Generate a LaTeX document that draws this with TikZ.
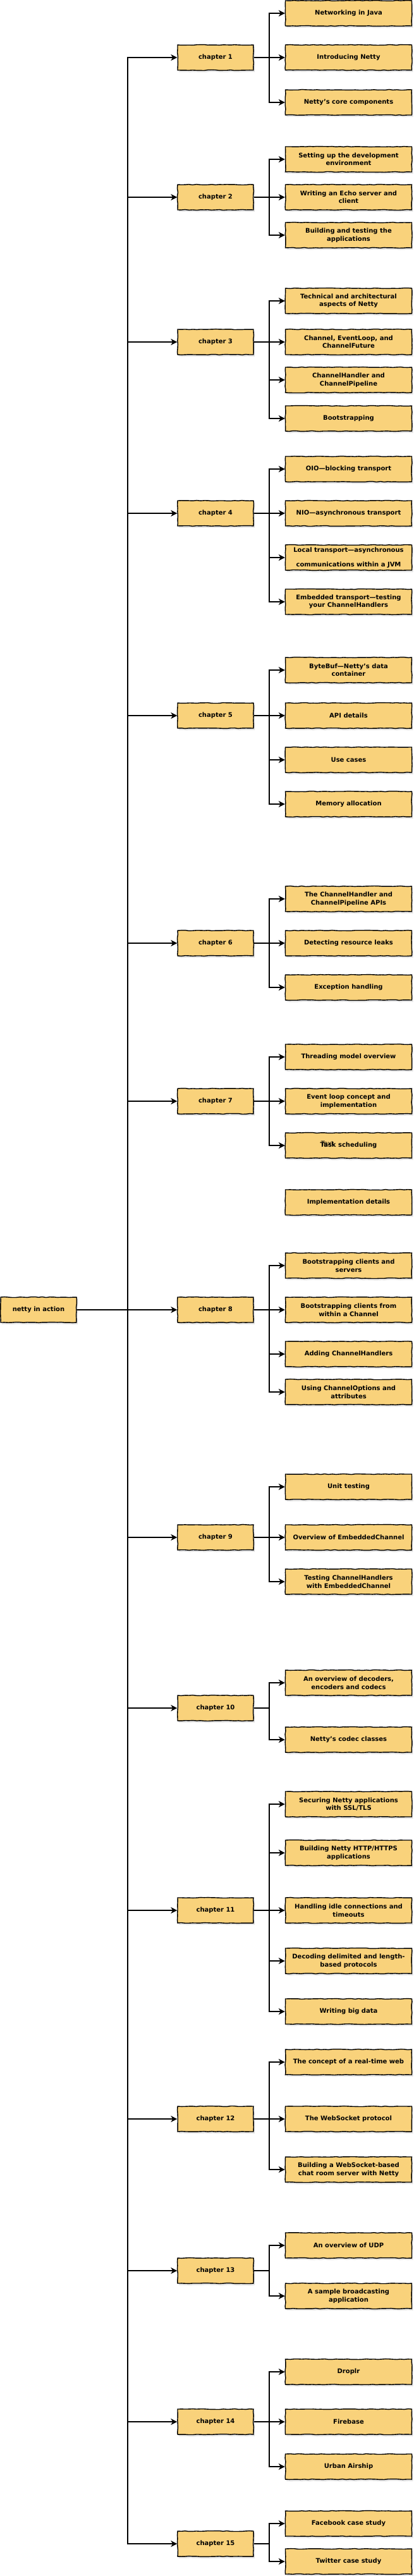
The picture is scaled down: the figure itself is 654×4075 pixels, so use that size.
\documentclass[tikz,border=0pt]{standalone}
\usepackage{fontspec}
\setmainfont{DejaVu Sans}
\usepackage{tikz}
\usetikzlibrary{arrows.meta,shadows,decorations.pathmorphing}
\definecolor{boxfill}{HTML}{F9D27B}
\tikzset{
  box/.style={draw, line width=1.4pt, fill=boxfill, minimum height=40pt, align=center,
    inner sep=1pt, font=\fontsize{10}{12.5}\selectfont\bfseries,
    decorate, decoration={random steps, segment length=6pt, amplitude=0.5pt},
    drop shadow={shadow xshift=2pt, shadow yshift=-3pt, opacity=0.2}},
  chap/.style={box, minimum width=120pt},
  topic/.style={box, minimum width=200pt},
  link/.style={line width=1.3pt, -{Stealth[length=10pt,width=10pt,inset=3pt]}}
}
\begin{document}
\begin{tikzpicture}[x=1pt,y=-1pt]
\pgfmathsetseed{7}
\useasboundingbox (0,0) rectangle (654,4075);

\node[chap] (root) at (61,2072) {netty in action};

\node[chap] (c1) at (341,91) {chapter 1};
\node[chap] (c2) at (341,312) {chapter 2};
\node[chap] (c3) at (341,541) {chapter 3};
\node[chap] (c4) at (341,812) {chapter 4};
\node[chap] (c5) at (341,1132) {chapter 5};
\node[chap] (c6) at (341,1492) {chapter 6};
\node[chap] (c7) at (341,1742) {chapter 7};
\node[chap] (c8) at (341,2072) {chapter 8};
\node[chap] (c9) at (341,2432) {chapter 9};
\node[chap] (c10) at (341,2702) {chapter 10};
\node[chap] (c11) at (341,3022) {chapter 11};
\node[chap] (c12) at (341,3352) {chapter 12};
\node[chap] (c13) at (341,3592) {chapter 13};
\node[chap] (c14) at (341,3831) {chapter 14};
\node[chap] (c15) at (341,4024) {chapter 15};

\node[topic] (t1a) at (551.5,21) {Networking in Java};
\node[topic] (t1b) at (551.5,91) {Introducing Netty};
\node[topic] (t1c) at (551.5,162) {Netty’s core components};

\node[topic] (t2a) at (551.5,252) {Setting up the development\\environment};
\node[topic] (t2b) at (551.5,312) {Writing an Echo server and\\client};
\node[topic] (t2c) at (551.5,372) {Building and testing the\\applications};

\node[topic] (t3a) at (551.5,476) {Technical and architectural\\aspects of Netty};
\node[topic] (t3b) at (551.5,541) {Channel, EventLoop, and\\ChannelFuture};
\node[topic] (t3c) at (551.5,601) {ChannelHandler and\\ChannelPipeline};
\node[topic] (t3d) at (551.5,662) {Bootstrapping};

\node[topic] (t4a) at (551.5,742) {OIO—blocking transport};
\node[topic] (t4b) at (551.5,812) {NIO—asynchronous transport};
\node[topic] (t4c) at (551.5,882) {Local transport—asynchronous\\[11pt]communications within a JVM};
\node[topic] (t4d) at (551.5,952) {Embedded transport—testing\\your ChannelHandlers};

\node[topic] (t5a) at (551.5,1060) {ByteBuf—Netty’s data\\container};
\node[topic] (t5b) at (551.5,1132) {API details};
\node[topic] (t5c) at (551.5,1202) {Use cases};
\node[topic] (t5d) at (551.5,1272) {Memory allocation};

\node[topic] (t6a) at (551.5,1422) {The ChannelHandler and\\ChannelPipeline APIs};
\node[topic] (t6b) at (551.5,1492) {Detecting resource leaks};
\node[topic] (t6c) at (551.5,1562) {Exception handling};

\node[topic] (t7a) at (551.5,1672) {Threading model overview};
\node[topic] (t7b) at (551.5,1742) {Event loop concept and\\implementation};
\node[topic] (t7c) at (551.5,1812) {Task scheduling};
\node[font=\fontsize{10}{12}\selectfont] (tx) at (518,1809) {Text};
\node[topic] (t7d) at (551.5,1902) {Implementation details};

\node[topic] (t8a) at (551.5,2002) {Bootstrapping clients and\\servers};
\node[topic] (t8b) at (551.5,2072) {Bootstrapping clients from\\within a Channel};
\node[topic] (t8c) at (551.5,2142) {Adding ChannelHandlers};
\node[topic] (t8d) at (551.5,2202) {Using ChannelOptions and\\attributes};

\node[topic] (t9a) at (551.5,2352) {Unit testing};
\node[topic] (t9b) at (551.5,2432) {Overview of EmbeddedChannel};
\node[topic] (t9c) at (551.5,2502) {Testing ChannelHandlers\\with EmbeddedChannel};

\node[topic] (t10a) at (551.5,2662) {An overview of decoders,\\encoders and codecs};
\node[topic] (t10b) at (551.5,2752) {Netty’s codec classes};

\node[topic] (t11a) at (551.5,2854) {Securing Netty applications\\with SSL/TLS};
\node[topic] (t11b) at (551.5,2931) {Building Netty HTTP/HTTPS\\applications};
\node[topic] (t11c) at (551.5,3022) {Handling idle connections and\\timeouts};
\node[topic] (t11d) at (551.5,3102) {Decoding delimited and length-\\based protocols};
\node[topic] (t11e) at (551.5,3182) {Writing big data};

\node[topic] (t12a) at (551.5,3262) {The concept of a real-time web};
\node[topic] (t12b) at (551.5,3352) {The WebSocket protocol};
\node[topic] (t12c) at (551.5,3432) {Building a WebSocket-based\\chat room server with Netty};

\node[topic] (t13a) at (551.5,3552) {An overview of UDP};
\node[topic] (t13b) at (551.5,3632) {A sample broadcasting\\application};

\node[topic] (t14a) at (551.5,3752) {Droplr};
\node[topic] (t14b) at (551.5,3831) {Firebase};
\node[topic] (t14c) at (551.5,3902) {Urban Airship};

\node[topic] (t15a) at (551.5,3992) {Facebook case study};
\node[topic] (t15b) at (551.5,4052) {Twitter case study};

\coordinate (trunk) at (202,2072);
\coordinate (bx) at (426,0);

\draw[link] (root.east) -- (trunk) |- (c1.west);
\draw[link] (root.east) -- (trunk) |- (c2.west);
\draw[link] (root.east) -- (trunk) |- (c3.west);
\draw[link] (root.east) -- (trunk) |- (c4.west);
\draw[link] (root.east) -- (trunk) |- (c5.west);
\draw[link] (root.east) -- (trunk) |- (c6.west);
\draw[link] (root.east) -- (trunk) |- (c7.west);
\draw[link] (root.east) -- (trunk) |- (c8.west);
\draw[link] (root.east) -- (trunk) |- (c9.west);
\draw[link] (root.east) -- (trunk) |- (c10.west);
\draw[link] (root.east) -- (trunk) |- (c11.west);
\draw[link] (root.east) -- (trunk) |- (c12.west);
\draw[link] (root.east) -- (trunk) |- (c13.west);
\draw[link] (root.east) -- (trunk) |- (c14.west);
\draw[link] (root.east) -- (trunk) |- (c15.west);

\draw[link] (c1.east) -- (c1.east -| bx) |- (t1a.west);
\draw[link] (c1.east) -- (c1.east -| bx) |- (t1b.west);
\draw[link] (c1.east) -- (c1.east -| bx) |- (t1c.west);

\draw[link] (c2.east) -- (c2.east -| bx) |- (t2a.west);
\draw[link] (c2.east) -- (c2.east -| bx) |- (t2b.west);
\draw[link] (c2.east) -- (c2.east -| bx) |- (t2c.west);

\draw[link] (c3.east) -- (c3.east -| bx) |- (t3a.west);
\draw[link] (c3.east) -- (c3.east -| bx) |- (t3b.west);
\draw[link] (c3.east) -- (c3.east -| bx) |- (t3c.west);
\draw[link] (c3.east) -- (c3.east -| bx) |- (t3d.west);

\draw[link] (c4.east) -- (c4.east -| bx) |- (t4a.west);
\draw[link] (c4.east) -- (c4.east -| bx) |- (t4b.west);
\draw[link] (c4.east) -- (c4.east -| bx) |- (t4c.west);
\draw[link] (c4.east) -- (c4.east -| bx) |- (t4d.west);

\draw[link] (c5.east) -- (c5.east -| bx) |- (t5a.west);
\draw[link] (c5.east) -- (c5.east -| bx) |- (t5b.west);
\draw[link] (c5.east) -- (c5.east -| bx) |- (t5c.west);
\draw[link] (c5.east) -- (c5.east -| bx) |- (t5d.west);

\draw[link] (c6.east) -- (c6.east -| bx) |- (t6a.west);
\draw[link] (c6.east) -- (c6.east -| bx) |- (t6b.west);
\draw[link] (c6.east) -- (c6.east -| bx) |- (t6c.west);

\draw[link] (c7.east) -- (c7.east -| bx) |- (t7a.west);
\draw[link] (c7.east) -- (c7.east -| bx) |- (t7b.west);
\draw[link] (c7.east) -- (c7.east -| bx) |- (t7c.west);

\draw[link] (c8.east) -- (c8.east -| bx) |- (t8a.west);
\draw[link] (c8.east) -- (c8.east -| bx) |- (t8b.west);
\draw[link] (c8.east) -- (c8.east -| bx) |- (t8c.west);
\draw[link] (c8.east) -- (c8.east -| bx) |- (t8d.west);

\draw[link] (c9.east) -- (c9.east -| bx) |- (t9a.west);
\draw[link] (c9.east) -- (c9.east -| bx) |- (t9b.west);
\draw[link] (c9.east) -- (c9.east -| bx) |- (t9c.west);

\draw[link] (c10.east) -- (c10.east -| bx) |- (t10a.west);
\draw[link] (c10.east) -- (c10.east -| bx) |- (t10b.west);

\draw[link] (c11.east) -- (c11.east -| bx) |- (t11a.west);
\draw[link] (c11.east) -- (c11.east -| bx) |- (t11b.west);
\draw[link] (c11.east) -- (c11.east -| bx) |- (t11c.west);
\draw[link] (c11.east) -- (c11.east -| bx) |- (t11d.west);
\draw[link] (c11.east) -- (c11.east -| bx) |- (t11e.west);

\draw[link] (c12.east) -- (c12.east -| bx) |- (t12a.west);
\draw[link] (c12.east) -- (c12.east -| bx) |- (t12b.west);
\draw[link] (c12.east) -- (c12.east -| bx) |- (t12c.west);

\draw[link] (c13.east) -- (c13.east -| bx) |- (t13a.west);
\draw[link] (c13.east) -- (c13.east -| bx) |- (t13b.west);

\draw[link] (c14.east) -- (c14.east -| bx) |- (t14a.west);
\draw[link] (c14.east) -- (c14.east -| bx) |- (t14b.west);
\draw[link] (c14.east) -- (c14.east -| bx) |- (t14c.west);

\draw[link] (c15.east) -- (c15.east -| bx) |- (t15a.west);
\draw[link] (c15.east) -- (c15.east -| bx) |- (t15b.west);
\end{tikzpicture}
\end{document}
